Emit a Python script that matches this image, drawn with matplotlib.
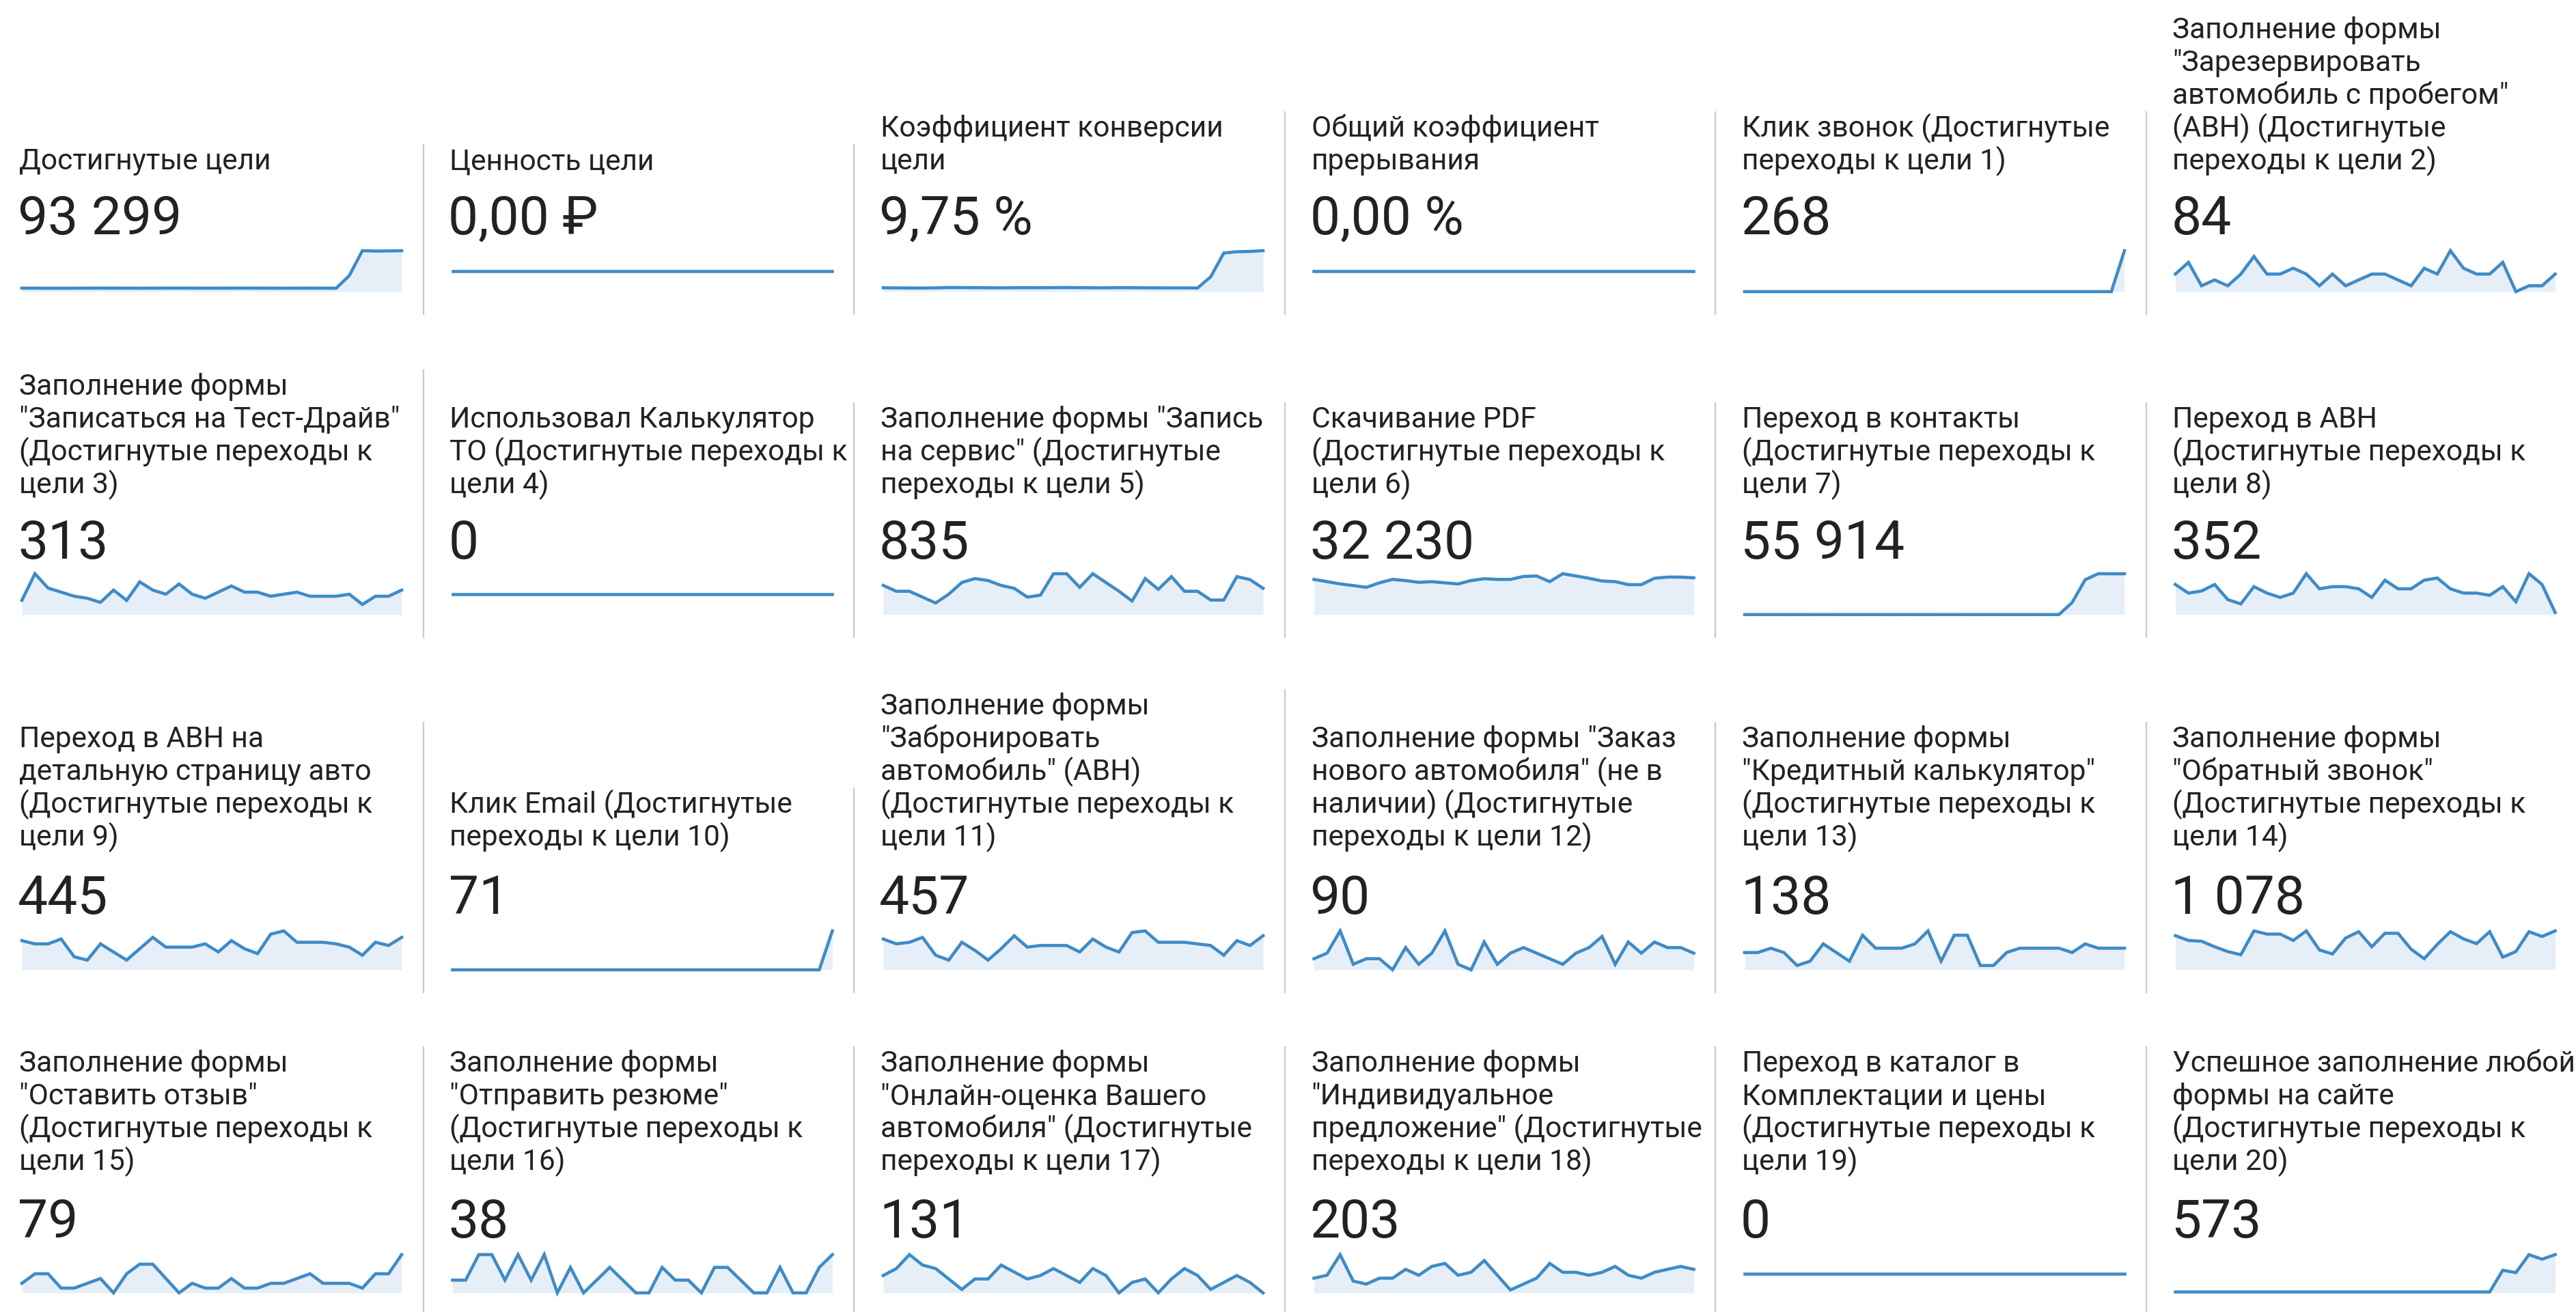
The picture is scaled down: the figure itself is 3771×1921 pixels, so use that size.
"""Goal overview tiles: title, total and a 30-day sparkline per goal"""

import matplotlib
matplotlib.use("Agg")
import matplotlib.pyplot as plt
from matplotlib.lines import Line2D
import numpy as np

# DATA:

titles = [
    # row 1
    ["Достигнутые цели"],
    ["Ценность цели"],
    ["Коэффициент конверсии", "цели"],
    ["Общий коэффициент", "прерывания"],
    ["Клик звонок (Достигнутые", "переходы к цели 1)"],
    ["Заполнение формы", "\"Зарезервировать", "автомобиль с пробегом\"",
     "(АВН) (Достигнутые", "переходы к цели 2)"],
    # row 2
    ["Заполнение формы", "\"Записаться на Тест-Драйв\"",
     "(Достигнутые переходы к", "цели 3)"],
    ["Использовал Калькулятор", "ТО (Достигнутые переходы к", "цели 4)"],
    ["Заполнение формы \"Запись", "на сервис\" (Достигнутые", "переходы к цели 5)"],
    ["Скачивание PDF", "(Достигнутые переходы к", "цели 6)"],
    ["Переход в контакты", "(Достигнутые переходы к", "цели 7)"],
    ["Переход в АВН", "(Достигнутые переходы к", "цели 8)"],
    # row 3
    ["Переход в АВН на", "детальную страницу авто",
     "(Достигнутые переходы к", "цели 9)"],
    ["Клик Email (Достигнутые", "переходы к цели 10)"],
    ["Заполнение формы", "\"Забронировать", "автомобиль\" (АВН)",
     "(Достигнутые переходы к", "цели 11)"],
    ["Заполнение формы \"Заказ", "нового автомобиля\" (не в",
     "наличии) (Достигнутые", "переходы к цели 12)"],
    ["Заполнение формы", "\"Кредитный калькулятор\"",
     "(Достигнутые переходы к", "цели 13)"],
    ["Заполнение формы", "\"Обратный звонок\"",
     "(Достигнутые переходы к", "цели 14)"],
    # row 4
    ["Заполнение формы", "\"Оставить отзыв\"",
     "(Достигнутые переходы к", "цели 15)"],
    ["Заполнение формы", "\"Отправить резюме\"",
     "(Достигнутые переходы к", "цели 16)"],
    ["Заполнение формы", "\"Онлайн-оценка Вашего",
     "автомобиля\" (Достигнутые", "переходы к цели 17)"],
    ["Заполнение формы", "\"Индивидуальное",
     "предложение\" (Достигнутые", "переходы к цели 18)"],
    ["Переход в каталог в", "Комплектации и цены",
     "(Достигнутые переходы к", "цели 19)"],
    ["Успешное заполнение любой", "формы на сайте",
     "(Достигнутые переходы к", "цели 20)"],
]

totals = ["93 299", "0,00 ₽", "9,75 %", "0,00 %", "268", "84",
          "313", "0", "835", "32 230", "55 914", "352",
          "445", "71", "457", "90", "138", "1 078",
          "79", "38", "131", "203", "0", "573"]

# daily values, 30 days
goals_completed = [1220, 1210, 1200, 1195, 1205, 1215, 1225, 1220, 1210, 1205,
                   1215, 1225, 1230, 1220, 1210, 1215, 1225, 1230, 1220, 1215,
                   1205, 1215, 1220, 1210, 1200, 5590, 14350, 14200, 14250, 14330]
goal_value = [0, 0, 0, 0, 0, 0, 0, 0, 0, 0, 0, 0, 0, 0, 0,
              0, 0, 0, 0, 0, 0, 0, 0, 0, 0, 0, 0, 0, 0, 0]
conversion_rate = [1.45, 1.40, 1.38, 1.36, 1.42, 1.55, 1.52, 1.50, 1.46, 1.44,
                   1.48, 1.50, 1.47, 1.52, 1.55, 1.50, 1.46, 1.44, 1.50, 1.48,
                   1.44, 1.42, 1.40, 1.40, 1.38, 5.60, 14.60, 15.10, 15.20, 15.50]
abandon_rate = [0, 0, 0, 0, 0, 0, 0, 0, 0, 0, 0, 0, 0, 0, 0,
                0, 0, 0, 0, 0, 0, 0, 0, 0, 0, 0, 0, 0, 0, 0]
goal_1 = [0, 0, 0, 0, 0, 0, 0, 0, 0, 0, 0, 0, 0, 0, 0,
          0, 0, 0, 0, 0, 0, 0, 0, 0, 0, 0, 0, 0, 0, 268]
goal_2 = [3, 5, 1, 2, 1, 3, 6, 3, 3, 4, 3, 1, 3, 1, 2,
          3, 3, 2, 1, 4, 3, 7, 4, 3, 3, 5, 0, 1, 1, 3]
goal_3 = [7, 20, 13, 11, 9, 8, 6, 12, 7, 16, 12, 10, 15, 10, 8,
          11, 14, 11, 11, 9, 10, 11, 9, 9, 9, 10, 5, 9, 9, 12]
goal_4 = [0, 0, 0, 0, 0, 0, 0, 0, 0, 0, 0, 0, 0, 0, 0,
          0, 0, 0, 0, 0, 0, 0, 0, 0, 0, 0, 0, 0, 0, 0]
goal_5 = [30, 24, 24, 18, 12, 21, 33, 37, 35, 30, 27, 18, 20, 42, 42,
          28, 42, 33, 24, 14, 37, 26, 39, 24, 24, 15, 15, 39, 36, 27]
goal_6 = [1107, 1037, 965, 914, 858, 1000, 1107, 1071, 1015, 1037,
          1000, 965, 1071, 1129, 1107, 1107, 1200, 1214, 1037, 1286,
          1214, 1143, 1057, 1037, 943, 943, 1143, 1179, 1179, 1157]
goal_7 = [40, 42, 38, 41, 39, 40, 43, 41, 38, 40, 42, 39, 41, 40, 38,
          41, 43, 40, 39, 42, 40, 38, 41, 40, 42, 3900, 11300, 13250, 13220, 13240]
goal_8 = [14, 10, 11, 14, 7, 5, 13, 10, 8, 10, 19, 12, 13, 13, 12,
          8, 16, 12, 12, 16, 17, 12, 10, 10, 9, 13, 6, 19, 14, 1]
goal_9 = [18, 16, 16, 19, 8, 6, 16, 11, 6, 13, 20, 14, 14, 14, 16,
          11, 18, 13, 10, 22, 24, 17, 17, 17, 16, 14, 9, 17, 15, 20]
goal_10 = [0, 0, 0, 0, 0, 0, 0, 0, 0, 0, 0, 0, 0, 0, 0,
           0, 0, 0, 0, 0, 0, 0, 0, 0, 0, 0, 0, 0, 0, 71]
goal_11 = [19, 16, 17, 20, 9, 6, 17, 12, 6, 13, 21, 14, 15, 15, 15,
           11, 19, 14, 11, 23, 24, 17, 17, 17, 16, 15, 9, 18, 15, 21]
goal_12 = [2, 3, 7, 1, 2, 2, 0, 4, 1, 3, 7, 1, 0, 5, 1,
           3, 4, 3, 2, 1, 3, 4, 6, 1, 5, 3, 5, 4, 4, 3]
goal_13 = [4, 4, 5, 4, 1, 2, 6, 4, 2, 8, 5, 5, 5, 6, 9,
           2, 8, 8, 1, 1, 4, 5, 5, 5, 5, 4, 6, 5, 5, 5]
goal_14 = [43, 37, 36, 29, 23, 19, 49, 45, 45, 37, 49, 25, 20, 40, 48,
           29, 46, 46, 26, 14, 32, 48, 39, 33, 48, 16, 23, 48, 42, 49]
goal_15 = [2, 4, 4, 1, 1, 2, 3, 0, 4, 6, 6, 3, 0, 2, 1,
           1, 3, 1, 1, 2, 2, 3, 4, 2, 2, 2, 1, 4, 4, 8]
goal_16 = [1, 1, 3, 3, 1, 3, 1, 3, 0, 2, 0, 1, 2, 1, 0,
           0, 2, 1, 1, 0, 2, 2, 1, 0, 0, 2, 0, 0, 2, 3]
goal_17 = [5, 7, 11, 8, 7, 4, 1, 4, 4, 8, 6, 4, 5, 7, 5,
           3, 7, 5, 0, 3, 4, 0, 4, 7, 5, 1, 3, 5, 3, 0]
goal_18 = [5, 6, 13, 4, 3, 5, 5, 8, 6, 9, 10, 6, 7, 11, 6,
           1, 3, 5, 10, 7, 7, 6, 7, 9, 6, 5, 7, 8, 9, 8]
goal_19 = [0, 0, 0, 0, 0, 0, 0, 0, 0, 0, 0, 0, 0, 0, 0,
           0, 0, 0, 0, 0, 0, 0, 0, 0, 0, 0, 0, 0, 0, 0]
goal_20 = [3, 3, 3, 3, 3, 3, 3, 3, 3, 3, 3, 3, 3, 3, 3,
           3, 3, 3, 3, 3, 3, 3, 3, 3, 3, 74, 66, 125, 110, 125]

series = [goals_completed, goal_value, conversion_rate, abandon_rate, goal_1, goal_2,
          goal_3, goal_4, goal_5, goal_6, goal_7, goal_8,
          goal_9, goal_10, goal_11, goal_12, goal_13, goal_14,
          goal_15, goal_16, goal_17, goal_18, goal_19, goal_20]

# LAYOUT (pixels):

W, H = 3771, 1921
col_pitch = 630.5
n_cols = 6
text_x0 = 28
spark_x0, spark_x1 = 32, 588
sep_x0 = 619.5
line_step = 48

row_title_base = [248, 722, 1238, 1713]
row_number_base = [343, 818, 1338, 1812]
row_spark = [(367, 427), (840, 900), (1363, 1420), (1837, 1893)]
row_bottom = [460, 933, 1453, 1921]

text_color = "#222222"
line_color = "#3f8bc6"
fill_color = "#e6eff8"
sep_color = "#c9c9c9"
fonts = ["Roboto", "DejaVu Sans"]

fig = plt.figure(figsize=(W / 100, H / 100), dpi=100)


def fx(x):
    return x / W


def fy(y):
    return 1 - y / H


for i, (lines, total, values) in enumerate(zip(titles, totals, series)):
    row, col = divmod(i, n_cols)
    left = col * col_pitch

    # title, bottom aligned
    base = row_title_base[row]
    for k, line in enumerate(reversed(lines)):
        fig.text(fx(left + text_x0), fy(base - k * line_step), line,
                 fontsize=30.6, family=fonts, color=text_color, va="baseline", ha="left")

    fig.text(fx(left + text_x0 - 2), fy(row_number_base[row]), total,
             fontsize=56.5, family=fonts, color=text_color, va="baseline", ha="left")

    # sparkline
    top, bottom = row_spark[row]
    ax = fig.add_axes([fx(left + spark_x0), fy(bottom),
                       (spark_x1 - spark_x0) / W, (bottom - top) / H])
    x = np.arange(len(values))
    y = np.array(values, dtype=float)
    ax.fill_between(x, y, 0, color=fill_color, linewidth=0)
    ax.plot(x, y, color=line_color, linewidth=3.3, clip_on=False,
            solid_joinstyle="miter")
    ax.set_xlim(0, len(values) - 1)
    if y.max() > 0:
        ax.set_ylim(0, y.max())
    else:
        ax.set_ylim(-1, 1)
    ax.axis("off")

    # right border of the tile
    sep_top = base - (len(lines) - 1) * line_step - 36
    xs = left + sep_x0
    fig.add_artist(Line2D([fx(xs), fx(xs)], [fy(sep_top), fy(row_bottom[row])],
                          color=sep_color, linewidth=1.6))

fig.savefig("out.png", dpi=100, facecolor="white")
